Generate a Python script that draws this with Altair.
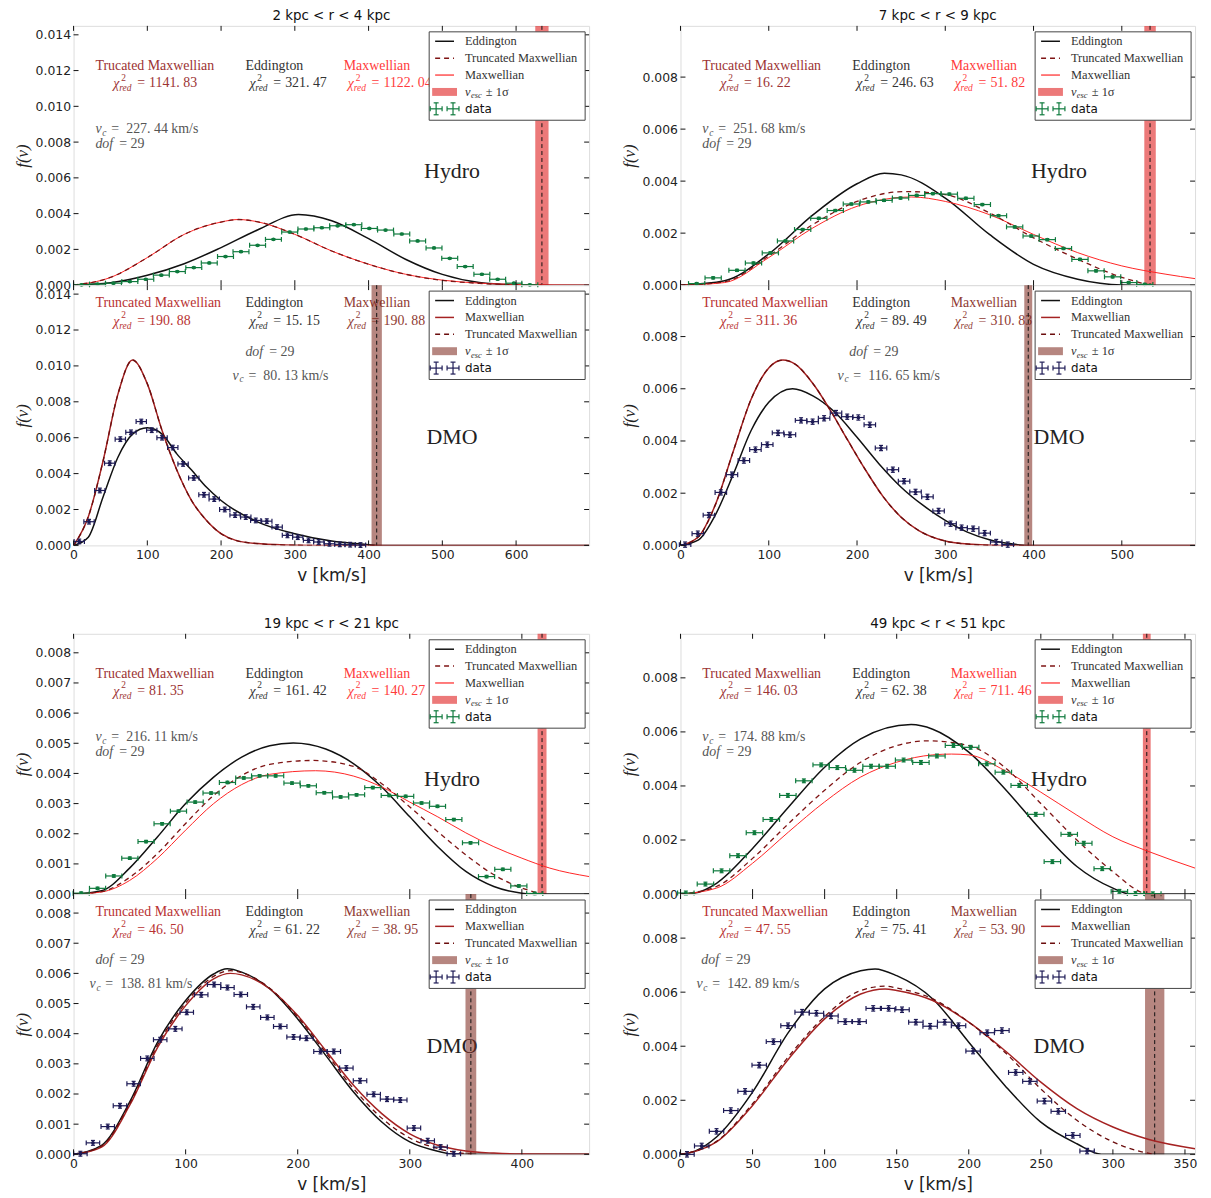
import altair as alt
import pandas as pd

SERIF = "Liberation Serif"
SANS = "DejaVu Sans"

# ======================= Panel A : 2 kpc < r < 4 kpc =======================
A_TITLE = "2 kpc < r < 4 kpc"
A_XMAX = 699
A_YMAX = 0.0145
A_XTICKS = [0, 100, 200, 300, 400, 500, 600]
A_YTICKS = [0.0, 0.002, 0.004, 0.006, 0.008, 0.010, 0.012, 0.014]

A_H_V = [10.8, 32.5, 54.1, 76.3, 97.9, 119.0, 140.7, 163.0, 184.0, 206.0, 227.0, 249.5, 271.0, 293.0, 315.0,
         336.6, 358.0, 380.0, 401.0, 423.0, 445.0, 466.5, 488.7, 510.0, 531.0, 553.6, 575.0, 597.0, 618.6]
A_H_F = [0.00002, 0.00006, 0.00011, 0.0002, 0.00033, 0.00056, 0.00076, 0.00098, 0.00124, 0.0016, 0.00187,
         0.00223, 0.00256, 0.00297, 0.00314, 0.00321, 0.00332, 0.00338, 0.00317, 0.00308, 0.00286, 0.00247,
         0.00208, 0.0015, 0.00104, 0.00061, 0.00033, 0.00011, 0.00002]
A_H_DV = 10.8
A_H_DF = 0.00004
A_H_EDD_V = [0, 50, 100, 150, 200, 250, 305, 350, 400, 450, 500, 550, 600, 650, 699]
A_H_EDD_F = [0, 0.00013, 0.00055, 0.0012, 0.0021, 0.0031, 0.00395, 0.0036, 0.0026, 0.00145, 0.0006, 0.00015,
             0.00002, 0, 0]
A_H_MAX_V = [0, 50, 100, 150, 200, 223, 250, 300, 350, 400, 450, 500, 550, 600, 650, 699]
A_H_MAX_F = [0, 0.00043, 0.00154, 0.00284, 0.00353, 0.00367, 0.00354, 0.00284, 0.00191, 0.00117, 0.00061,
             0.00028, 0.00011, 0.00004, 0.00001, 0]
A_H_TM_V = [0, 50, 100, 150, 200, 223, 250, 300, 350, 400, 450, 500, 550, 600, 635]
A_H_TM_F = [0, 0.00043, 0.00154, 0.00284, 0.00353, 0.00367, 0.00354, 0.00284, 0.00191, 0.00117, 0.00061,
            0.00027, 0.0001, 0.00002, 0]
A_H_VESC = 635
A_H_SIG = 9
A_H_CHI = ["1141. 83", "321. 47", "1122. 04"]
A_H_VC = "227. 44"

A_D_V = [7.7, 21, 35.6, 49, 63.4, 77.8, 91.8, 106, 120, 134.5, 148.5, 163, 176.8, 190.7, 205, 219, 233.5, 247,
         262, 276, 290, 304, 318.6, 332.5, 347, 361, 375, 389]
A_D_F = [0.00022, 0.00132, 0.00306, 0.00458, 0.00592, 0.0063, 0.0069, 0.00642, 0.006, 0.00545, 0.00454, 0.00376,
         0.00282, 0.00258, 0.002, 0.00169, 0.00158, 0.00139, 0.00135, 0.00102, 0.00056, 0.00046, 0.00028, 0.00019,
         0.00009, 0.00006, 0.00004, 0.00002]
A_D_DV = 7.0
A_D_DF = 0.00013
A_D_EDD_V = [0, 20, 40, 60, 80, 100, 120, 140, 160, 180, 200, 250, 300, 350, 400, 411, 699]
A_D_EDD_F = [0, 0.00046, 0.0027, 0.0049, 0.0062, 0.00655, 0.0062, 0.0051, 0.0042, 0.00325, 0.0025, 0.0013,
             0.00065, 0.00024, 0.00004, 0, 0]
A_D_MAX_V = [0, 20, 40, 60, 80, 100, 120, 140, 160, 180, 200, 220, 250, 300, 350, 699]
A_D_MAX_F = [0, 0.0016, 0.0047, 0.0084, 0.01033, 0.009, 0.0064, 0.0042, 0.0025, 0.0014, 0.00065, 0.00028,
             0.0001, 0.00001, 0, 0]
A_D_TM_V = [0, 20, 40, 60, 80, 100, 120, 140, 160, 180, 200, 220, 250, 300, 350, 411]
A_D_TM_F = [0, 0.0016, 0.0047, 0.0084, 0.01033, 0.009, 0.0064, 0.0042, 0.0025, 0.0014, 0.00065, 0.00028,
            0.0001, 0.00001, 0, 0]
A_D_VESC = 411
A_D_SIG = 7
A_D_CHI = ["190. 88", "15. 15", "190. 88"]
A_D_VC = "80. 13"

# ======================= Panel B : 7 kpc < r < 9 kpc =======================
B_TITLE = "7 kpc < r < 9 kpc"
B_XMAX = 583
B_YMAX = 0.00997
B_XTICKS = [0, 100, 200, 300, 400, 500]
B_YTICKS = [0.0, 0.002, 0.004, 0.006, 0.008]

B_H_V = [18.3, 37, 64, 82.7, 101.8, 119, 138.4, 156.7, 175.4, 193.6, 212.8, 230.6, 249.3, 267.6, 285.9, 304.6,
         323.3, 342, 360.3, 378.6, 397.3, 415.6, 433.9, 452.6, 470.8, 489.6, 507.8, 526]
B_H_F = [0.00006, 0.00028, 0.00057, 0.00085, 0.00124, 0.0017, 0.00214, 0.00257, 0.00287, 0.00312, 0.0032, 0.00326,
         0.00335, 0.00345, 0.00352, 0.0035, 0.00334, 0.0031, 0.00267, 0.00224, 0.00189, 0.00175, 0.00141, 0.00099,
         0.00055, 0.00032, 0.0001, 0.00003]
B_H_DV = 9.2
B_H_DF = 0.00004
B_H_EDD_V = [0, 50, 100, 150, 200, 231, 250, 300, 350, 400, 450, 500, 530, 583]
B_H_EDD_F = [0, 0.00017, 0.0012, 0.0027, 0.0039, 0.0043, 0.00424, 0.00335, 0.00195, 0.0008, 0.00023, 0.00001, 0, 0]
B_H_MAX_V = [0, 50, 100, 150, 200, 262, 300, 350, 400, 450, 500, 550, 583]
B_H_MAX_F = [0, 0.0001, 0.00106, 0.0022, 0.00303, 0.00339, 0.00322, 0.00271, 0.00195, 0.00125, 0.00074, 0.00042,
             0.00025]
B_H_TM_V = [0, 50, 100, 150, 200, 254, 300, 350, 400, 450, 500, 532]
B_H_TM_F = [0, 0.00013, 0.00112, 0.00233, 0.00322, 0.0036, 0.00348, 0.00278, 0.00182, 0.001, 0.0003, 0]
B_H_VESC = 532
B_H_SIG = 6.5
B_H_CHI = ["16. 22", "246. 63", "51. 82"]
B_H_VC = "251. 68"

B_D_V = [5.2, 19.6, 32.2, 45.7, 58.3, 71.8, 84.9, 98.3, 110.5, 124, 136.6, 149.7, 162.7, 176.2, 188.9, 201.5,
         214.5, 227.2, 240.6, 253.3, 266.3, 279.8, 292.4, 306, 318.5, 331.6, 344.6, 357.7, 370.8]
B_D_F = [0.00003, 0.00045, 0.00116, 0.00203, 0.00271, 0.00325, 0.00367, 0.00386, 0.00431, 0.00424, 0.00479,
         0.00474, 0.00487, 0.00507, 0.00493, 0.0049, 0.00462, 0.00373, 0.0029, 0.00246, 0.00205, 0.00186, 0.00132,
         0.00083, 0.00068, 0.00064, 0.00047, 0.00013, 0.00003]
B_D_DV = 6.5
B_D_DF = 0.0001
B_D_EDD_V = [0, 20, 40, 60, 80, 100, 127, 150, 175, 200, 225, 250, 275, 300, 325, 350, 375, 394, 583]
B_D_EDD_F = [0, 0.0002, 0.0012, 0.00274, 0.0044, 0.00548, 0.006, 0.00573, 0.0051, 0.00414, 0.00312, 0.00223,
             0.00153, 0.00096, 0.00051, 0.00022, 0.00006, 0, 0]
B_D_MAX_V = [0, 20, 40, 60, 80, 100, 116, 130, 150, 170, 190, 210, 230, 250, 270, 300, 330, 360, 583]
B_D_MAX_F = [0, 0.00032, 0.0016, 0.00363, 0.0056, 0.0068, 0.0071, 0.00694, 0.0062, 0.00516, 0.004, 0.00287,
             0.00185, 0.00108, 0.00057, 0.00017, 0.00004, 0, 0]
B_D_TM_V = [0, 20, 40, 60, 80, 100, 116, 130, 150, 170, 190, 210, 230, 250, 270, 300, 330, 360, 394]
B_D_TM_F = [0, 0.00032, 0.0016, 0.00363, 0.0056, 0.0068, 0.0071, 0.00694, 0.0062, 0.00516, 0.004, 0.00287,
            0.00185, 0.00108, 0.00057, 0.00017, 0.00004, 0, 0]
B_D_VESC = 394
B_D_SIG = 4.5
B_D_CHI = ["311. 36", "89. 49", "310. 83"]
B_D_VC = "116. 65"

# ======================= Panel C : 19 kpc < r < 21 kpc =======================
C_TITLE = "19 kpc < r < 21 kpc"
C_XMAX = 460
C_YMAX = 0.00863
C_XTICKS = [0, 100, 200, 300, 400]
C_YTICKS = [0.0, 0.001, 0.002, 0.003, 0.004, 0.005, 0.006, 0.007, 0.008]

C_H_V = [6.8, 21.4, 35.9, 50.2, 64.7, 79, 93.6, 108.5, 122.7, 137.3, 151.9, 166, 180.3, 194.9, 209.5, 223.7,
         238.3, 252.5, 267, 281.7, 296.3, 310.5, 324.7, 339.3, 354.2, 368.5, 383, 397.3, 411.5]
C_H_F = [0.00003, 0.00019, 0.0006, 0.00119, 0.00174, 0.00233, 0.00275, 0.00305, 0.00335, 0.0037, 0.00385,
         0.00392, 0.00392, 0.00368, 0.00359, 0.00336, 0.00322, 0.00329, 0.00353, 0.00327, 0.00324, 0.00302,
         0.00291, 0.00247, 0.0017, 0.00058, 0.00082, 0.00027, 0.00002]
C_H_DV = 7.2
C_H_DF = 0.00004
C_H_EDD_V = [0, 25, 50, 75, 100, 125, 150, 175, 196, 225, 250, 275, 300, 325, 350, 375, 400, 412, 460]
C_H_EDD_F = [0, 0.00011, 0.00086, 0.0019, 0.003, 0.00388, 0.00454, 0.00492, 0.00501, 0.00481, 0.00432, 0.00355,
             0.00256, 0.00157, 0.00075, 0.00025, 0.00003, 0, 0]
C_H_MAX_V = [0, 25, 50, 75, 100, 125, 150, 175, 216, 250, 275, 300, 325, 350, 375, 400, 425, 460]
C_H_MAX_F = [0, 0.00007, 0.00045, 0.00119, 0.00212, 0.003, 0.00363, 0.00397, 0.00409, 0.00391, 0.00355, 0.00305,
             0.00256, 0.00203, 0.00157, 0.00119, 0.00086, 0.00058]
C_H_TM_V = [0, 25, 50, 75, 100, 125, 150, 175, 213, 250, 275, 300, 325, 350, 375, 400, 418]
C_H_TM_F = [0, 0.00008, 0.00055, 0.00135, 0.00234, 0.00327, 0.00393, 0.0043, 0.00443, 0.00423, 0.00366, 0.00289,
            0.00207, 0.0013, 0.00064, 0.0002, 0]
C_H_VESC = 418
C_H_SIG = 4
C_H_CHI = ["81. 35", "161. 42", "140. 27"]
C_H_VC = "216. 11"

C_D_V = [6.1, 17.3, 30.5, 41.4, 53.6, 65.8, 77.3, 90.8, 101, 113.9, 125.4, 137.3, 149.2, 160.3, 172.9, 184.4,
         196.3, 207.8, 220.3, 232.2, 243.4, 255.6, 267.8, 279.7, 291.5, 303.7, 316, 327.5, 339.3]
C_D_F = [0.00002, 0.00038, 0.00092, 0.00161, 0.00234, 0.00318, 0.0038, 0.00416, 0.00471, 0.00529, 0.00563,
         0.00553, 0.0053, 0.00489, 0.00454, 0.00424, 0.00389, 0.00385, 0.00341, 0.00341, 0.00286, 0.00244,
         0.00199, 0.00183, 0.0018, 0.00087, 0.00045, 0.00024, 0.00002]
C_D_DV = 6.0
C_D_DF = 0.00008
C_D_EDD_V = [0, 25, 50, 75, 100, 125, 137, 150, 175, 200, 225, 250, 275, 300, 325, 340, 460]
C_D_EDD_F = [0, 0.0003, 0.00173, 0.00372, 0.0051, 0.00598, 0.00615, 0.00604, 0.00549, 0.00449, 0.00328, 0.00206,
             0.00107, 0.00041, 0.0001, 0, 0]
C_D_MAX_V = [0, 25, 50, 75, 100, 125, 140, 150, 175, 200, 225, 250, 275, 300, 325, 350, 375, 400, 460]
C_D_MAX_F = [0, 0.00024, 0.00162, 0.00355, 0.00493, 0.00582, 0.006, 0.00595, 0.00549, 0.0046, 0.00344, 0.00228,
             0.00135, 0.00068, 0.0003, 0.00011, 0.00004, 0.00001, 0]
C_D_TM_V = [0, 25, 50, 75, 100, 125, 140, 150, 175, 200, 225, 250, 275, 300, 325, 350, 355]
C_D_TM_F = [0, 0.00028, 0.00168, 0.00363, 0.00502, 0.0059, 0.00609, 0.00602, 0.00551, 0.00455, 0.00337, 0.00217,
            0.0012, 0.00054, 0.00019, 0.00002, 0]
C_D_VESC = 354.5
C_D_SIG = 4.8
C_D_CHI = ["46. 50", "61. 22", "38. 95"]
C_D_VC = "138. 81"

# ======================= Panel D : 49 kpc < r < 51 kpc =======================
D_TITLE = "49 kpc < r < 51 kpc"
D_XMAX = 357
D_YMAX = 0.00963
D_XTICKS = [0, 50, 100, 150, 200, 250, 300, 350]
D_YTICKS = [0.0, 0.002, 0.004, 0.006, 0.008]

D_H_V = [3.7, 17.3, 28.5, 39.9, 51.3, 63, 74.5, 85.6, 97.6, 108.8, 120.7, 132.2, 143.4, 154.8, 166.8, 177.9,
         189.4, 201.3, 212.5, 224, 235, 246.5, 258, 269.7, 279.8, 292.6, 304.5, 315.7, 327.7]
D_H_F = [0.00004, 0.00037, 0.00086, 0.00142, 0.00227, 0.00276, 0.00365, 0.00419, 0.00478, 0.00468, 0.00458,
         0.00473, 0.00473, 0.00496, 0.00487, 0.00511, 0.0055, 0.00543, 0.00482, 0.00451, 0.00402, 0.00295, 0.0012,
         0.00221, 0.00188, 0.00094, 0.0001, 0.00002, 0.00001]
D_H_DV = 5.7
D_H_DF = 0.00007
D_H_EDD_V = [0, 10, 25, 50, 75, 100, 125, 160, 175, 200, 225, 250, 275, 300, 312, 357]
D_H_EDD_F = [0, 0.00004, 0.0004, 0.00169, 0.00322, 0.00469, 0.00574, 0.00627, 0.0061, 0.00525, 0.0039, 0.00237,
             0.00102, 0.00022, 0, 0]
D_H_MAX_V = [0, 25, 50, 75, 100, 125, 150, 175, 188, 200, 225, 250, 275, 300, 325, 357]
D_H_MAX_F = [0, 0.00022, 0.00114, 0.0023, 0.00341, 0.00433, 0.00488, 0.00515, 0.00518, 0.00515, 0.00457,
             0.00377, 0.00292, 0.00212, 0.00157, 0.00096]
D_H_TM_V = [0, 25, 50, 75, 100, 125, 150, 171, 200, 225, 250, 275, 300, 320, 323.5]
D_H_TM_F = [0, 0.00028, 0.00132, 0.00261, 0.00384, 0.00488, 0.00549, 0.00567, 0.00549, 0.00469, 0.00335, 0.002,
            0.00083, 0.00006, 0]
D_H_VESC = 323.5
D_H_SIG = 2.7
D_H_CHI = ["146. 03", "62. 38", "711. 46"]
D_H_VC = "174. 88"

D_D_V = [4.5, 14.7, 25, 34.9, 44.8, 54.6, 64.5, 74.6, 84.4, 94.3, 104.4, 114.3, 123.9, 133.7, 144.4, 153.7, 163.3,
         173.2, 183.3, 192.9, 203, 212.8, 223, 232.6, 242.4, 252.5, 262.1, 272.2, 282.1]
D_D_F = [0.0, 0.00031, 0.00085, 0.00162, 0.00233, 0.0033, 0.00417, 0.00476, 0.00526, 0.00522, 0.00512, 0.00491,
         0.00491, 0.0054, 0.0054, 0.00535, 0.00489, 0.00474, 0.00489, 0.00476, 0.00382, 0.0045, 0.00458, 0.00303,
         0.0027, 0.00197, 0.00159, 0.0007, 0.00012]
D_D_DV = 5.0
D_D_DF = 0.0001
D_D_EDD_V = [0, 10, 25, 50, 75, 100, 125, 135, 150, 175, 200, 225, 250, 275, 292, 357]
D_D_EDD_F = [0, 0.00012, 0.00064, 0.0023, 0.00452, 0.00612, 0.00679, 0.00686, 0.00661, 0.00575, 0.00415, 0.00255,
             0.00119, 0.00039, 0, 0]
D_D_MAX_V = [0, 25, 50, 75, 100, 125, 142, 150, 175, 200, 225, 250, 275, 300, 325, 357]
D_D_MAX_F = [0, 0.00046, 0.00181, 0.00353, 0.00501, 0.00593, 0.00612, 0.00606, 0.00569, 0.00489, 0.00384,
             0.00267, 0.00169, 0.00101, 0.00055, 0.00021]
D_D_TM_V = [0, 25, 50, 75, 100, 125, 142, 150, 175, 200, 225, 250, 275, 300, 320, 329]
D_D_TM_F = [0, 0.00048, 0.00187, 0.00362, 0.0051, 0.00606, 0.00622, 0.00615, 0.00575, 0.00489, 0.00378, 0.00242,
            0.00126, 0.00046, 0.00009, 0]
D_D_VESC = 329
D_D_SIG = 6.7
D_D_CHI = ["47. 55", "75. 41", "53. 90"]
D_D_VC = "142. 89"

DOF = "29"

# ======================= styling =======================
STY = {
    "hydro": dict(edd="#111111", tm="#7f1414", mx="#ff2424", mxw=1.0, band="#e02020", bandop=0.6,
                  data="#0e7a3d", txt=["#9c3333", "#333333", "#ff3b3b"],
                  names=["Trucated Maxwellian", "Eddington", "Maxwellian"], label="Hydro", ty=40, cy=58),
    "dmo": dict(edd="#111111", tm="#6b0d0d", mx="#a52222", mxw=1.5, band="#7f2a20", bandop=0.57,
                data="#1d1a55", txt=["#b83232", "#333333", "#8f3b33"],
                names=["Truncated Maxwellian", "Eddington", "Maxwellian"], label="DMO", ty=18, cy=36),
}
ONE = alt.Data(values=[{"o": 1}])


def T(s, x, y, size=14, color="#333333", style="normal", font=SERIF, align="left"):
    return alt.Chart(ONE).mark_text(text=s, font=font, fontSize=size, fontStyle=style, color=color,
                                    align=align, baseline="middle").encode(x=alt.value(x), y=alt.value(y))


def R(x1, x2, y1, y2, color, w=1.0, dash=None):
    kw = dict(color=color, strokeWidth=w)
    if dash:
        kw["strokeDash"] = dash
    return alt.Chart(ONE).mark_rule(**kw).encode(x=alt.value(x1), x2=alt.value(x2),
                                                 y=alt.value(y1), y2=alt.value(y2))


def chi_text(x, y, val, c):
    return [T("χ", x, y + 1, 14, c, "italic"), T("2", x + 8, y - 6, 9.5, c),
            T("red", x + 6, y + 5, 9.5, c, "italic"), T("=", x + 24, y, 14, c), T(val, x + 36, y, 14, c)]


def annotations(kind, chi, vc, dofpos, vcpos):
    s = STY[kind]
    L = []
    for nx, cx, nm, c, val in zip([22, 173, 272], [40, 177, 276], s["names"], s["txt"], chi):
        L.append(T(nm, nx, s["ty"], 14, c))
        L += chi_text(cx, s["cy"], val, c)
    g = "#555555"
    dx, dy = dofpos
    L += [T("dof", dx, dy, 14, g, "italic"), T("= " + DOF, dx + 24, dy, 14, g)]
    vx, vy = vcpos
    L += [T("v", vx, vy, 14, g, "italic"), T("c", vx + 7, vy + 4, 9.5, g, "italic"),
          T("=", vx + 16, vy, 14, g), T(vc + " km/s", vx + 31, vy, 14, g)]
    return L


def legend(kind, W):
    s = STY[kind]
    L = [alt.Chart(ONE).mark_rect(fill="white", stroke="#444444", strokeWidth=1).encode(
        x=alt.value(W - 161), x2=alt.value(W - 4), y=alt.value(6), y2=alt.value(95))]
    rows = [15.5, 32.5, 49.5, 66.5, 83.5]
    x1, x2, lx = W - 155, W - 136, W - 125
    if kind == "hydro":
        lines = [(s["edd"], 1.5, None, "Eddington"), (s["tm"], 1.5, [5, 4], "Truncated Maxwellian"),
                 (s["mx"], 1.2, None, "Maxwellian")]
    else:
        lines = [(s["edd"], 1.5, None, "Eddington"), (s["mx"], 1.5, None, "Maxwellian"),
                 (s["tm"], 1.5, [5, 4], "Truncated Maxwellian")]
    for r, (c, w, d, lab) in zip(rows, lines):
        L.append(R(x1, x2, r, r, c, w, d))
        L.append(T(lab, lx, r, 12.5, "#333333"))
    r = rows[3]
    L.append(alt.Chart(ONE).mark_rect(fill=s["band"], opacity=s["bandop"]).encode(
        x=alt.value(x1 - 3), x2=alt.value(x2 + 3), y=alt.value(r - 4), y2=alt.value(r + 4)))
    L += [T("v", lx, r, 12.5, "#333333", "italic"), T("esc", lx + 6, r + 3.5, 8.5, "#333333", "italic"),
          T("± 1σ", lx + 21, r, 12.5, "#333333")]
    r = rows[4]
    c = s["data"]
    for cx in (x1 + 1, x2 - 1):
        L += [R(cx - 6, cx + 6, r, r, c, 1.2), R(cx, cx, r - 6, r + 6, c, 1.2),
              R(cx - 6, cx - 6, r - 2.5, r + 2.5, c, 1.2), R(cx + 6, cx + 6, r - 2.5, r + 2.5, c, 1.2),
              R(cx - 2.5, cx + 2.5, r - 6, r - 6, c, 1.2), R(cx - 2.5, cx + 2.5, r + 6, r + 6, c, 1.2)]
    L.append(T("data", lx, r, 12, "#111111", font=SANS))
    return L


def panel(kind, grid, p, W, H, title=None, dofpos=(22, 119), vcpos=(22, 104)):
    s = STY[kind]
    xmax, ymax, xticks, yticks = grid
    xs = alt.Scale(domain=[0, xmax], nice=False, zero=False)
    ys = alt.Scale(domain=[0, ymax], nice=False, zero=False)
    if kind == "hydro":
        xaxis = None
    else:
        xaxis = alt.Axis(values=xticks, format="d", title="v [km/s]", ticks=False, grid=False, domain=False,
                         labelFlush=False, labelPadding=3, titlePadding=7, labelFont=SANS, labelFontSize=12.5,
                         labelColor="#222222", titleFont=SANS, titleFontSize=17, titleFontWeight="normal",
                         titleColor="#222222")
    yaxis = alt.Axis(values=yticks, format=".3f", title="f(v)", ticks=False, grid=False, domain=False,
                     labelFlush=False, labelPadding=3, minExtent=40, maxExtent=40, titlePadding=2,
                     labelFont=SANS, labelFontSize=12.5, labelColor="#222222", titleFont=SERIF,
                     titleFontStyle="italic", titleFontSize=17, titleFontWeight="normal", titleColor="#222222")

    def X(f):
        return alt.X(f, type="quantitative", scale=xs, axis=xaxis)

    def Y(f):
        return alt.Y(f, type="quantitative", scale=ys, axis=yaxis)

    L = []
    # text annotations (under the band)
    L += annotations(kind, p["chi"], p["vc"], dofpos, vcpos)
    L.append(T(s["label"], 381, 146 if kind == "hydro" else 153, 22, "#222222", align="center"))

    # escape velocity band and line
    band = pd.DataFrame({"lo": [p["vesc"] - p["sig"]], "hi": [p["vesc"] + p["sig"]], "v": [p["vesc"]]})
    L.append(alt.Chart(band).mark_rect(fill=s["band"], opacity=s["bandop"]).encode(
        x=X("lo"), x2=alt.X2("hi"), y=alt.value(0), y2=alt.value(H)))
    L.append(alt.Chart(band).mark_rule(color="#111111", strokeWidth=1, strokeDash=[4, 3]).encode(
        x=X("v"), y=alt.value(0), y2=alt.value(H)))

    # model curves
    def curve(vf, color, w, dash=None):
        df = pd.DataFrame({"v": vf[0], "f": vf[1]})
        kw = dict(color=color, strokeWidth=w, interpolate="monotone", clip=True)
        if dash:
            kw["strokeDash"] = dash
        return alt.Chart(df).mark_line(**kw).encode(x=X("v"), y=Y("f"))

    L.append(curve(p["edd"], s["edd"], 1.5))
    L.append(curve(p["mx"], s["mx"], s["mxw"]))
    L.append(curve(p["tm"], s["tm"], 1.3, [5, 4]))

    # data with error bars
    d = pd.DataFrame({"v": p["v"], "f": p["f"]})
    d["lo"] = d["v"] - p["dv"]
    d["hi"] = d["v"] + p["dv"]
    d["flo"] = d["f"] - p["df"]
    d["fhi"] = d["f"] + p["df"]
    c = s["data"]
    base = alt.Chart(d)
    L.append(base.mark_rule(color=c, strokeWidth=1.2).encode(x=X("lo"), x2=alt.X2("hi"), y=Y("f")))
    L.append(base.mark_rule(color=c, strokeWidth=1.2).encode(x=X("v"), y=Y("flo"), y2=alt.Y2("fhi")))
    L.append(base.mark_point(shape="M0,-1V1", size=25, filled=False, color=c, strokeWidth=1.2, opacity=1).encode(
        x=X("lo"), y=Y("f")))
    L.append(base.mark_point(shape="M0,-1V1", size=25, filled=False, color=c, strokeWidth=1.2, opacity=1).encode(
        x=X("hi"), y=Y("f")))
    L.append(base.mark_point(shape="M-1,0H1", size=16, filled=False, color=c, strokeWidth=1.2, opacity=1).encode(
        x=X("v"), y=Y("flo")))
    L.append(base.mark_point(shape="M-1,0H1", size=16, filled=False, color=c, strokeWidth=1.2, opacity=1).encode(
        x=X("v"), y=Y("fhi")))
    L.append(base.mark_circle(color=c, size=14, opacity=1).encode(x=X("v"), y=Y("f")))

    # inward ticks on all four sides
    xt = alt.Chart(pd.DataFrame({"t": xticks}))
    yt = alt.Chart(pd.DataFrame({"t": yticks}))
    L.append(xt.mark_rule(color="#111111").encode(x=X("t"), y=alt.value(H), y2=alt.value(H - 5)))
    L.append(xt.mark_rule(color="#111111").encode(x=X("t"), y=alt.value(0), y2=alt.value(5)))
    L.append(yt.mark_rule(color="#111111").encode(y=Y("t"), x=alt.value(0), x2=alt.value(5)))
    L.append(yt.mark_rule(color="#111111").encode(y=Y("t"), x=alt.value(W - 5), x2=alt.value(W)))

    L += legend(kind, W)

    ch = alt.layer(*L).properties(width=W, height=H)
    if title:
        ch = ch.properties(title=alt.TitleParams(title, font=SANS, fontSize=13.5, fontWeight="normal",
                                                 color="#111111", offset=3, anchor="middle"))
    return ch


def P(v, f, dv, df, edd, mx, tm, vesc, sig, chi, vc):
    return dict(v=v, f=f, dv=dv, df=df, edd=edd, mx=mx, tm=tm, vesc=vesc, sig=sig, chi=chi, vc=vc)


A_H = P(A_H_V, A_H_F, A_H_DV, A_H_DF, (A_H_EDD_V, A_H_EDD_F), (A_H_MAX_V, A_H_MAX_F), (A_H_TM_V, A_H_TM_F),
        A_H_VESC, A_H_SIG, A_H_CHI, A_H_VC)
A_D = P(A_D_V, A_D_F, A_D_DV, A_D_DF, (A_D_EDD_V, A_D_EDD_F), (A_D_MAX_V, A_D_MAX_F), (A_D_TM_V, A_D_TM_F),
        A_D_VESC, A_D_SIG, A_D_CHI, A_D_VC)
B_H = P(B_H_V, B_H_F, B_H_DV, B_H_DF, (B_H_EDD_V, B_H_EDD_F), (B_H_MAX_V, B_H_MAX_F), (B_H_TM_V, B_H_TM_F),
        B_H_VESC, B_H_SIG, B_H_CHI, B_H_VC)
B_D = P(B_D_V, B_D_F, B_D_DV, B_D_DF, (B_D_EDD_V, B_D_EDD_F), (B_D_MAX_V, B_D_MAX_F), (B_D_TM_V, B_D_TM_F),
        B_D_VESC, B_D_SIG, B_D_CHI, B_D_VC)
C_H = P(C_H_V, C_H_F, C_H_DV, C_H_DF, (C_H_EDD_V, C_H_EDD_F), (C_H_MAX_V, C_H_MAX_F), (C_H_TM_V, C_H_TM_F),
        C_H_VESC, C_H_SIG, C_H_CHI, C_H_VC)
C_D = P(C_D_V, C_D_F, C_D_DV, C_D_DF, (C_D_EDD_V, C_D_EDD_F), (C_D_MAX_V, C_D_MAX_F), (C_D_TM_V, C_D_TM_F),
        C_D_VESC, C_D_SIG, C_D_CHI, C_D_VC)
D_H = P(D_H_V, D_H_F, D_H_DV, D_H_DF, (D_H_EDD_V, D_H_EDD_F), (D_H_MAX_V, D_H_MAX_F), (D_H_TM_V, D_H_TM_F),
        D_H_VESC, D_H_SIG, D_H_CHI, D_H_VC)
D_D = P(D_D_V, D_D_F, D_D_DV, D_D_DF, (D_D_EDD_V, D_D_EDD_F), (D_D_MAX_V, D_D_MAX_F), (D_D_TM_V, D_D_TM_F),
        D_D_VESC, D_D_SIG, D_D_CHI, D_D_VC)

GA = (A_XMAX, A_YMAX, A_XTICKS, A_YTICKS)
GB = (B_XMAX, B_YMAX, B_XTICKS, B_YTICKS)
GC = (C_XMAX, C_YMAX, C_XTICKS, C_YTICKS)
GD = (D_XMAX, D_YMAX, D_XTICKS, D_YTICKS)


def column(title, grid, h, d, W, H1, dofpos, vcpos):
    top = panel("hydro", grid, h, W, H1, title=title)
    bot = panel("dmo", grid, d, W, 262, dofpos=dofpos, vcpos=vcpos)
    return alt.vconcat(top, bot, spacing=0, bounds="flush")


row1 = alt.hconcat(
    column(A_TITLE, GA, A_H, A_D, 519, 261, (173, 67), (160, 91)),
    column(B_TITLE, GB, B_H, B_D, 518, 261, (170, 67), (158, 91)),
    spacing=30,
)
row2 = alt.hconcat(
    column(C_TITLE, GC, C_H, C_D, 519, 262, (22, 66), (16, 91)),
    column(D_TITLE, GD, D_H, D_D, 518, 262, (21, 66), (16, 91)),
    spacing=30,
)
chart = alt.vconcat(row1, row2, spacing=32).properties(
    padding={"left": 5, "top": -4, "right": 5, "bottom": 5}
).configure_view(stroke="#111111", strokeWidth=1).configure(font=SANS)

chart.save("out.html", embed_options={"renderer": "svg", "actions": False})
